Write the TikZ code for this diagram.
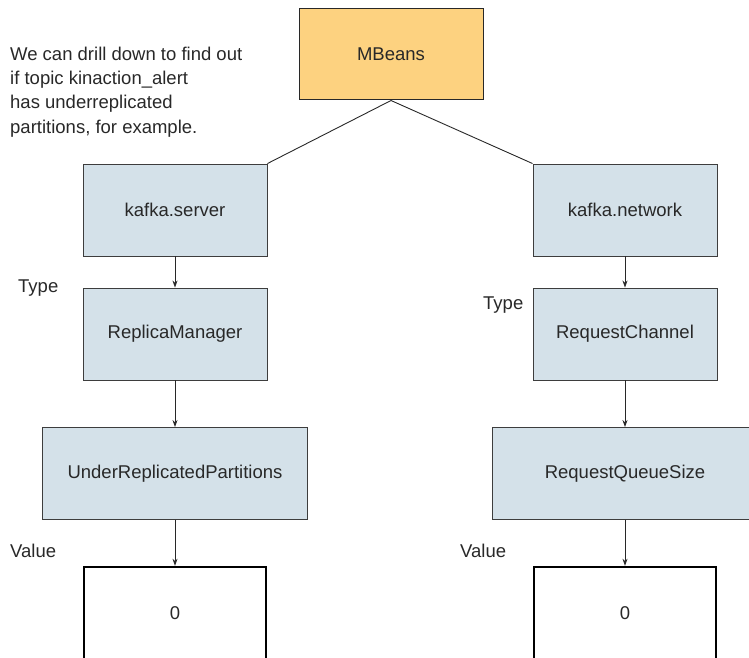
\documentclass[tikz,border=0pt]{standalone}
\usepackage{xcolor}
\usepackage{fontspec}
\setmainfont{Liberation Sans}
\usepackage{tikz}
\usetikzlibrary{arrows.meta, positioning}

\definecolor{beanblue}{RGB}{212,225,233}
\definecolor{beanorange}{RGB}{253,210,128}
\definecolor{inkgray}{RGB}{40,40,40}

\begin{document}
\begin{tikzpicture}[x=1pt, y=-1pt,
    every node/.style={font=\fontsize{18.5}{24.3}\selectfont, text=inkgray},
    >={Stealth[length=7pt, width=5pt]},
    bean/.style={draw=inkgray!90, line width=0.9pt, fill=beanblue, minimum width=184pt, minimum height=92pt, inner sep=0pt},
    valbox/.style={draw=black, line width=2.4pt, minimum width=182pt, minimum height=92pt, inner sep=0pt},
    tag/.style={anchor=base west, inner sep=0pt}]
    \useasboundingbox (0, 0) rectangle (749, 658);
    \clip (0, 0) rectangle (749, 658);

    % root
    \node[draw=inkgray, line width=1pt, fill=beanorange, minimum width=184pt, minimum height=91pt, inner sep=0pt] (mbeans) at (391, 54.5) {MBeans};

    % left branch and right branch
    \node[bean] (server) at (175, 210) {kafka.server};
    \node[bean] (network) at (625, 210) {kafka.network};
    \node[bean] (replica) at (175, 334) {ReplicaManager};
    \node[bean] (channel) at (625, 334) {RequestChannel};
    \node[bean, minimum width=265pt] (underrep) at (175, 473.5) {UnderReplicatedPartitions};
    \node[bean, minimum width=265pt] (queuesize) at (625, 473.5) {RequestQueueSize};
    \node[valbox] (valueL) at (175, 613) {0};
    \node[valbox] (valueR) at (625, 613) {0};

    \draw[inkgray, line width=0.9pt] (mbeans.south) -- (server.north east);
    \draw[inkgray, line width=0.9pt] (mbeans.south) -- (network.north west);
    \foreach \a/\b in {server/replica, replica/underrep, underrep/valueL, network/channel, channel/queuesize, queuesize/valueR} {
        \draw[->, inkgray, line width=0.8pt] (\a.south) -- (\b.north);
    }

    % side labels
    \node[tag] (typeL) at (18, 292) {Type};
    \node[tag] (typeR) at (483, 309) {Type};
    \node[tag] (valL) at (10, 557) {Value};
    \node[tag] (valR) at (460, 557) {Value};

    \node[anchor=north west, align=left, inner sep=0pt] (note) at (10, 46.5) {We can drill down to find out\\if topic kinaction\_alert\\has underreplicated\\partitions, for example.};
\end{tikzpicture}
\end{document}
